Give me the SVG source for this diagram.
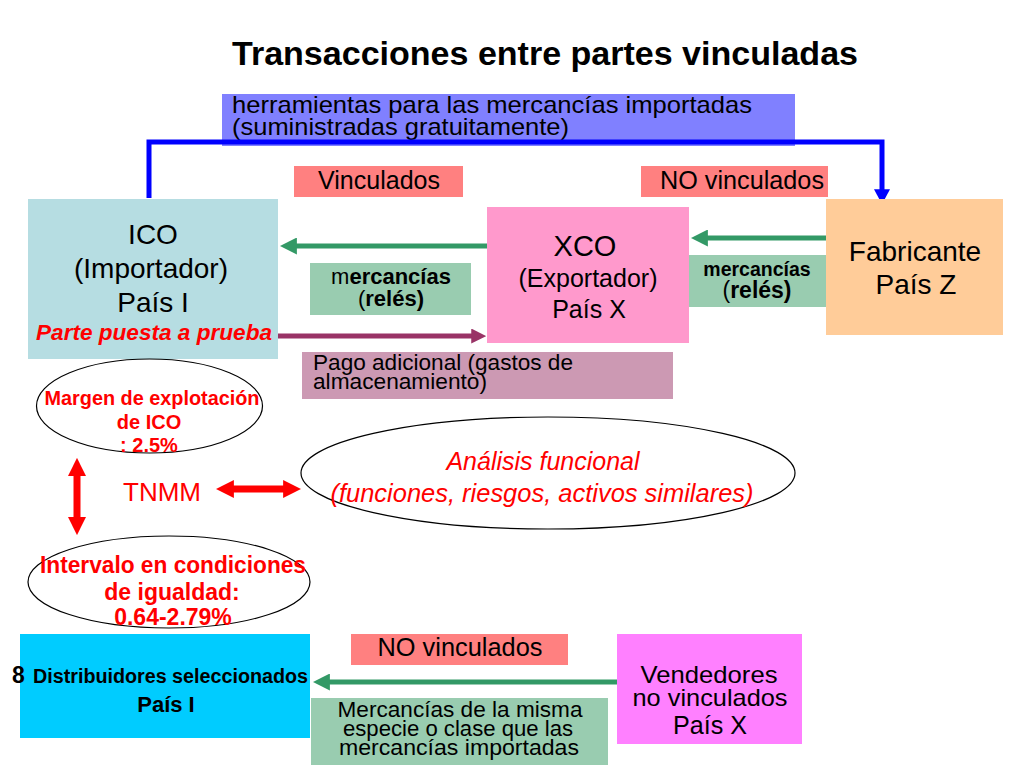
<svg xmlns="http://www.w3.org/2000/svg" width="1024" height="768" viewBox="0 0 1024 768">
<defs>
<style>
text{font-family:"Liberation Sans",Arial,sans-serif;fill:#000}
.c{text-anchor:middle}
.b{font-weight:bold}
.i{font-style:italic}
.r{fill:#ff0000}
.ell{fill:none;stroke:#000;stroke-width:1.2}
</style>
<marker id="aBlue" viewBox="0 0 10 10" refX="0.5" refY="5" markerWidth="15" markerHeight="16" preserveAspectRatio="none" orient="auto" markerUnits="userSpaceOnUse"><path d="M0,0L10,5L0,10z" fill="#0000ff"/></marker>
<marker id="aGreen" viewBox="0 0 10 10" refX="0.5" refY="5" markerWidth="17" markerHeight="17" preserveAspectRatio="none" orient="auto" markerUnits="userSpaceOnUse"><path d="M0,0L10,5L0,10z" fill="#339966"/></marker>
<marker id="aPurple" viewBox="0 0 10 10" refX="0.5" refY="5" markerWidth="15" markerHeight="15" preserveAspectRatio="none" orient="auto" markerUnits="userSpaceOnUse"><path d="M0,0L10,5L0,10z" fill="#993366"/></marker>
<marker id="aRed" viewBox="0 0 10 10" refX="0.5" refY="5" markerWidth="18" markerHeight="18" preserveAspectRatio="none" orient="auto-start-reverse" markerUnits="userSpaceOnUse"><path d="M0,0L10,5L0,10z" fill="#ff0000"/></marker>
</defs>
<rect width="1024" height="768" fill="#fff"/>
<text class="b" x="232" y="65" font-size="34" textLength="626" lengthAdjust="spacingAndGlyphs">Transacciones entre partes vinculadas</text>

<g id="herramientas">
<rect x="222" y="94" width="573" height="52" fill="#8080ff"/>
<text x="232" y="113" font-size="24" textLength="520" lengthAdjust="spacingAndGlyphs">herramientas para las mercancías importadas</text>
<text x="232" y="135" font-size="24" textLength="337" lengthAdjust="spacingAndGlyphs">(suministradas gratuitamente)</text>
</g>

<g id="connectors">
<polyline points="149,198 149,142 882,142 882,190" fill="none" stroke="#0000ff" stroke-width="5" marker-end="url(#aBlue)"/>
<line x1="487" y1="246" x2="296" y2="246" stroke="#339966" stroke-width="5" marker-end="url(#aGreen)"/>
<line x1="826" y1="238" x2="707" y2="238" stroke="#339966" stroke-width="5" marker-end="url(#aGreen)"/>
<line x1="278" y1="336" x2="472" y2="336" stroke="#993366" stroke-width="5" marker-end="url(#aPurple)"/>
<line x1="617" y1="682" x2="329" y2="682" stroke="#339966" stroke-width="5" marker-end="url(#aGreen)"/>
<line x1="77" y1="475" x2="77" y2="518" stroke="#ff0000" stroke-width="7" marker-start="url(#aRed)" marker-end="url(#aRed)"/>
<line x1="233" y1="489" x2="284" y2="489" stroke="#ff0000" stroke-width="7" marker-start="url(#aRed)" marker-end="url(#aRed)"/>
</g>

<g id="vinculados">
<rect x="294" y="166" width="169" height="31" fill="#ff8080"/>
<text class="c" x="379" y="189" font-size="25" textLength="122" lengthAdjust="spacingAndGlyphs">Vinculados</text>
</g>
<g id="no-vinculados-1">
<rect x="641" y="166" width="187" height="31" fill="#ff8080"/>
<text class="c" x="742" y="189" font-size="25" textLength="164" lengthAdjust="spacingAndGlyphs">NO vinculados</text>
</g>

<g id="ico">
<rect x="28" y="199" width="250" height="160" fill="#b6dde2"/>
<text class="c" x="153" y="244" font-size="28">ICO</text>
<text class="c" x="151" y="278" font-size="28">(Importador)</text>
<text class="c" x="153" y="312" font-size="28">País I</text>
<text class="c b i r" x="154" y="340" font-size="22" textLength="236" lengthAdjust="spacingAndGlyphs">Parte puesta a prueba</text>
</g>

<g id="mercancias-1">
<rect x="310" y="263" width="161" height="52" fill="#99ccb0"/>
<text class="c" x="391" y="284" font-size="22">m<tspan class="b">ercancías</tspan></text>
<text class="c" x="391" y="306" font-size="22">(<tspan class="b">relés)</tspan></text>
</g>

<g id="xco">
<rect x="487" y="207" width="202" height="136" fill="#ff99cc"/>
<text class="c" x="585" y="256" font-size="29">XCO</text>
<text class="c" x="588" y="287" font-size="25">(Exportador)</text>
<text class="c" x="589" y="318" font-size="25">País X</text>
</g>

<g id="mercancias-2">
<rect x="689" y="255" width="137" height="52" fill="#99ccb0"/>
<text class="c b" x="757" y="276" font-size="19.5">mercancías</text>
<text class="c" x="757" y="298" font-size="23">(<tspan class="b">relés)</tspan></text>
</g>

<g id="fabricante">
<rect x="826" y="199" width="177" height="136" fill="#ffcc99"/>
<text class="c" x="915" y="261" font-size="28">Fabricante</text>
<text class="c" x="916" y="294" font-size="28">País Z</text>
</g>

<g id="pago">
<rect x="302" y="352" width="371" height="47" fill="#cc99b3"/>
<text x="313" y="370" font-size="22" textLength="260" lengthAdjust="spacingAndGlyphs">Pago adicional (gastos de</text>
<text x="313" y="389" font-size="22" textLength="174" lengthAdjust="spacingAndGlyphs">almacenamiento)</text>
</g>

<g id="margen">
<ellipse class="ell" cx="149.5" cy="406" rx="113" ry="47"/>
<text class="c b r" x="152" y="405" font-size="20" textLength="215" lengthAdjust="spacingAndGlyphs">Margen de explotación</text>
<text class="c b r" x="149" y="429" font-size="20">de ICO</text>
<text class="c b r" x="149" y="452" font-size="20">: 2.5%</text>
</g>

<g id="tnmm">
<text class="c r" x="162" y="501" font-size="26" textLength="78" lengthAdjust="spacingAndGlyphs">TNMM</text>
</g>

<g id="analisis">
<ellipse class="ell" cx="548" cy="473" rx="247" ry="56"/>
<text class="c r i" x="543" y="470" font-size="25">Análisis funcional</text>
<text class="c r i" x="542" y="502" font-size="25" textLength="423" lengthAdjust="spacingAndGlyphs">(funciones, riesgos, activos similares)</text>
</g>

<g id="intervalo">
<ellipse class="ell" cx="169" cy="582" rx="141" ry="46"/>
<text class="c b r" x="173" y="573" font-size="23" textLength="266" lengthAdjust="spacingAndGlyphs">Intervalo en condiciones</text>
<text class="c b r" x="172" y="600" font-size="23">de igualdad:</text>
<text class="c b r" x="173" y="625" font-size="23">0.64-2.79%</text>
</g>

<g id="distribuidores">
<rect x="20" y="634" width="290" height="104" fill="#00ccff"/>
<text class="b" x="12" y="683" font-size="23">8</text>
<text class="b" x="33" y="683" font-size="20" textLength="275" lengthAdjust="spacingAndGlyphs">Distribuidores seleccionados</text>
<text class="c b" x="166" y="712" font-size="22">País I</text>
</g>

<g id="no-vinculados-2">
<rect x="351" y="634" width="217" height="31" fill="#ff8080"/>
<text class="c" x="460" y="656" font-size="25" textLength="165" lengthAdjust="spacingAndGlyphs">NO vinculados</text>
</g>

<g id="mercancias-3">
<rect x="311" y="698" width="297" height="67" fill="#99ccb0"/>
<text class="c" x="460" y="717" font-size="22" textLength="245" lengthAdjust="spacingAndGlyphs">Mercancías de la misma</text>
<text class="c" x="458" y="736" font-size="22" textLength="230" lengthAdjust="spacingAndGlyphs">especie o clase que las</text>
<text class="c" x="459" y="755" font-size="22" textLength="240" lengthAdjust="spacingAndGlyphs">mercancías importadas</text>
</g>

<g id="vendedores">
<rect x="617" y="634" width="185" height="110" fill="#ff80ff"/>
<text class="c" x="709" y="683" font-size="24" textLength="137" lengthAdjust="spacingAndGlyphs">Vendedores</text>
<text class="c" x="710" y="706" font-size="24" textLength="155" lengthAdjust="spacingAndGlyphs">no vinculados</text>
<text class="c" x="710" y="734" font-size="25" textLength="74" lengthAdjust="spacingAndGlyphs">País X</text>
</g>
</svg>
